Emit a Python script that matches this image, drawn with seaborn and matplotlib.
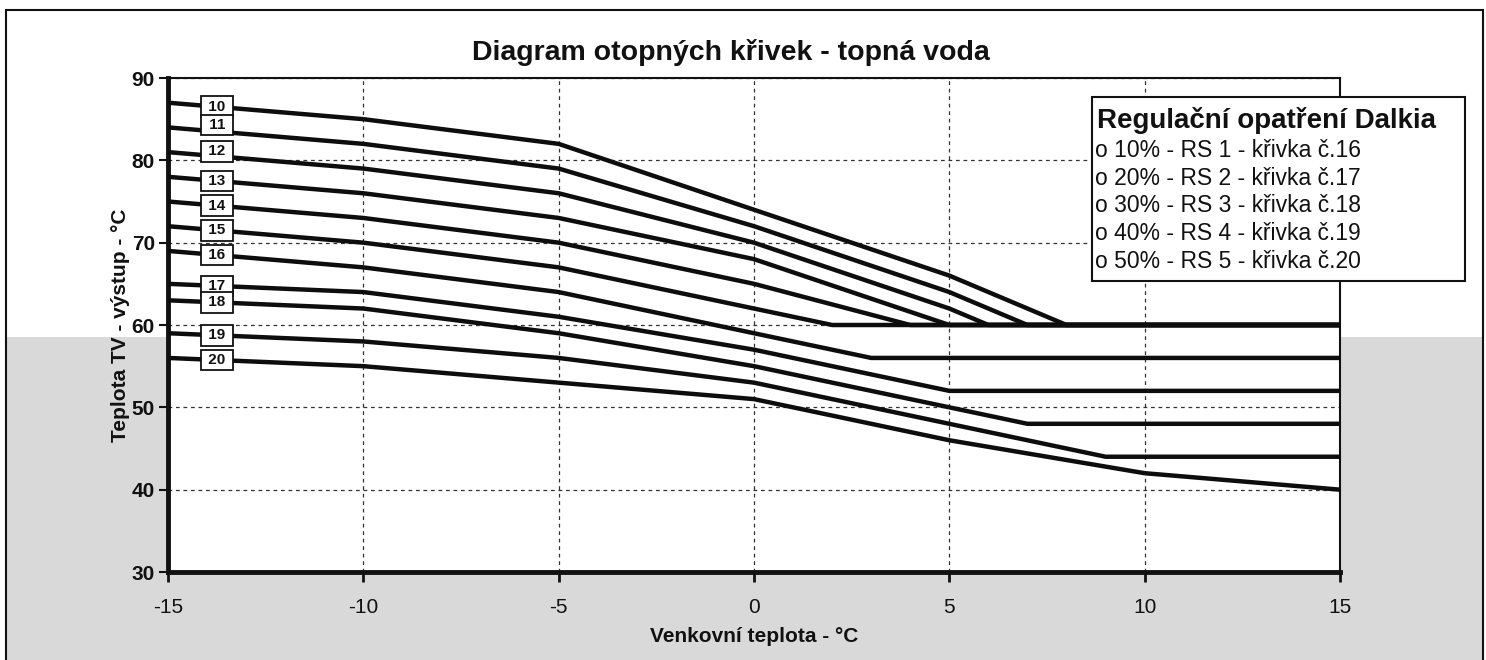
import numpy as np
import pandas as pd
import matplotlib
matplotlib.use("Agg")
import matplotlib.pyplot as plt
from matplotlib.patches import Rectangle
import seaborn as sns

# heating curves 10..20 (outdoor temp -> flow temp)
curve_ids = [10, 11, 12, 13, 14, 15, 16, 17, 18, 19, 20]
x_10 = [-15, -10, -5, 0, 5, 8, 15]
y_10 = [87, 85, 82, 74, 66, 60, 60]
x_11 = [-15, -10, -5, 0, 5, 7, 15]
y_11 = [84, 82, 79, 72, 64, 60, 60]
x_12 = [-15, -10, -5, 0, 5, 6, 15]
y_12 = [81, 79, 76, 70, 62, 60, 60]
x_13 = [-15, -10, -5, 0, 5, 15]
y_13 = [78, 76, 73, 68, 60, 60]
x_14 = [-15, -10, -5, 0, 4, 15]
y_14 = [75, 73, 70, 65, 60, 60]
x_15 = [-15, -10, -5, 0, 2, 15]
y_15 = [72, 70, 67, 62, 60, 60]
x_16 = [-15, -10, -5, 0, 3, 15]
y_16 = [69, 67, 64, 59, 56, 56]
x_17 = [-15, -10, -5, 0, 5, 15]
y_17 = [65, 64, 61, 57, 52, 52]
x_18 = [-15, -10, -5, 0, 5, 7, 15]
y_18 = [63, 62, 59, 55, 50, 48, 48]
x_19 = [-15, -10, -5, 0, 5, 9, 15]
y_19 = [59, 58, 56, 53, 48, 44, 44]
x_20 = [-15, -10, -5, 0, 5, 10, 15]
y_20 = [56, 55, 53, 51, 46, 42, 40]

x_ticks = [-15, -10, -5, 0, 5, 10, 15]
y_ticks = [30, 40, 50, 60, 70, 80, 90]

title = "Diagram otopných křivek - topná voda"
x_label = "Venkovní teplota - °C"
y_label = "Teplota TV - výstup - °C"
legend_title = "Regulační opatření Dalkia"
legend_items = [
    "o 10% - RS 1 - křivka č.16",
    "o 20% - RS 2 - křivka č.17",
    "o 30% - RS 3 - křivka č.18",
    "o 40% - RS 4 - křivka č.19",
    "o 50% - RS 5 - křivka č.20",
]

xs = [x_10, x_11, x_12, x_13, x_14, x_15, x_16, x_17, x_18, x_19, x_20]
ys = [y_10, y_11, y_12, y_13, y_14, y_15, y_16, y_17, y_18, y_19, y_20]
frames = []
for cid, xv, yv in zip(curve_ids, xs, ys):
    frames.append(pd.DataFrame({"curve": str(cid), "x": xv, "y": yv}))
df = pd.concat(frames, ignore_index=True)

sns.set_style("white")
plt.rcParams["font.family"] = ["Liberation Sans", "DejaVu Sans"]

W, H = 1486, 660
fig = plt.figure(figsize=(W / 100, H / 100), dpi=100)


def fx(px):
    return px / W


def fy(py):
    return 1 - py / H


# scanned page look: grey lower band and outer frame
fig.patches.append(Rectangle((fx(6), 0), fx(1477), fy(337), transform=fig.transFigure,
                             facecolor="#d9d9d9", edgecolor="none", zorder=-2))
fig.patches.append(Rectangle((fx(6), -0.01), fx(1477), fy(10) + 0.01, transform=fig.transFigure,
                             facecolor="none", edgecolor="#111111", lw=1.5, zorder=-1))

ax = fig.add_axes([fx(168), fy(572), fx(1340 - 168), (572 - 78) / H])
ax.set_facecolor("white")

palette = {str(c): "#0d0d0d" for c in curve_ids}
sns.lineplot(data=df, x="x", y="y", hue="curve", palette=palette, estimator=None,
             legend=False, lw=3.2, ax=ax, zorder=3)

ax.set_xlim(-15, 15)
ax.set_ylim(30, 90)
ax.set_xticks(x_ticks)
ax.set_yticks(y_ticks)
ax.set_xticklabels([str(v) for v in x_ticks])
ax.set_yticklabels([str(v) for v in y_ticks], fontweight="bold")
ax.grid(True, linestyle=(0, (3, 3)), color="#333333", lw=0.9, zorder=0)

for side in ["left", "bottom"]:
    ax.spines[side].set_linewidth(3.5)
    ax.spines[side].set_color("#111111")
for side in ["top", "right"]:
    ax.spines[side].set_linewidth(1.5)
    ax.spines[side].set_color("#111111")

ax.tick_params(axis="y", direction="out", length=6.5, width=1.5, labelsize=15, pad=3,
               colors="#111111", left=True)
ax.tick_params(axis="x", direction="out", length=7, width=2, labelsize=15, pad=12,
               colors="#111111", bottom=True)

ax.set_xlabel(x_label, fontsize=15, fontweight="bold", color="#111111")
ax.xaxis.label.set_va("center")
ax.xaxis.set_label_coords(0.5, (572 - 637) / (572 - 78))
ax.set_ylabel(y_label, fontsize=15, fontweight="bold", color="#111111")
ax.yaxis.label.set_va("center")
ax.yaxis.set_label_coords((120 - 168) / (1340 - 168), 0.5)

# curve number boxes near the left edge
label_x = -13.75
nudge = {11: 0.8, 12: 0.6}
for cid, xv, yv in zip(curve_ids, xs, ys):
    ly = np.interp(label_x, xv, yv) + nudge.get(cid, 0)
    ax.text(label_x, ly, f" {cid} ", ha="center", va="center", fontsize=11,
            fontweight="bold", color="#111111", zorder=5,
            bbox=dict(boxstyle="square,pad=0.22", facecolor="white",
                      edgecolor="#111111", lw=1.3))

fig.text(fx(472), fy(60), title, fontsize=20.5, fontweight="bold", ha="left",
         va="baseline", color="#111111")

# legend box with the regulation steps
fig.patches.append(Rectangle((fx(1092), fy(281)), fx(1465 - 1092), (281 - 97) / H,
                             transform=fig.transFigure, facecolor="white",
                             edgecolor="#111111", lw=1.5, zorder=5))
fig.text(fx(1097), fy(128), legend_title, fontsize=20, fontweight="bold",
         ha="left", va="baseline", color="#111111", zorder=6)
for i, item in enumerate(legend_items):
    fig.text(fx(1095), fy(157 + 27.7 * i), item, fontsize=16.5, ha="left",
             va="baseline", color="#111111", zorder=6)

fig.savefig("out.png", dpi=100)
plt.close(fig)
